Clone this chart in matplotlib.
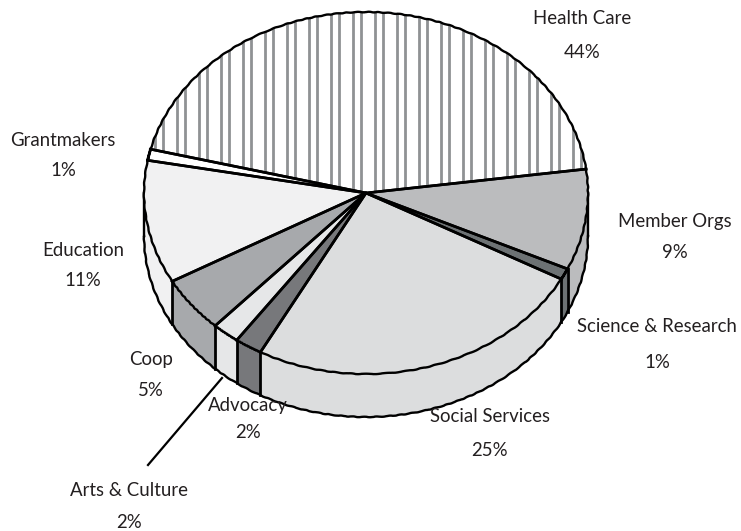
import numpy as np
import matplotlib
matplotlib.use('Agg')
import matplotlib.pyplot as plt
from matplotlib.patches import Polygon

labels = ['Health Care', 'Member Orgs', 'Science & Research', 'Social Services', 'Advocacy',
          'Arts & Culture', 'Coop', 'Education', 'Grantmakers']
values = [44, 9, 1, 25, 2, 2, 5, 11, 1]
colors = ['white', '#bbbcbe', '#6d7274', '#dcddde', '#77787b', '#e6e7e8', '#a7a9ac', '#f1f1f2', 'white']
# x centre, name line y, percent line y
label_pos = [(582, 19, 52), (675, 221, 252), (657, 327, 363), (490, 417, 451), (248, 405, 433),
             (129, 490, 523), (151, 360, 390), (83, 251, 281), (63, 140, 170)]

# pie geometry in pixel units
cx, cy = 366, 193
rx, ry = 222, 181
depth = 43
start_angle = 166.0


def rim(a0, a1, n=120):
    t = np.radians(np.linspace(a0, a1, n))
    return cx + rx * np.cos(t), cy - ry * np.sin(t)


def rough_line(ax, x, y, **kw):
    # slightly uneven stroke for the pie outline
    line, = ax.plot(x, y, color='black', lw=1.7, **kw)
    line.set_sketch_params(0.3, 12, 2)
    return line


fig = plt.figure(figsize=(7.41, 5.31), dpi=100)
ax = fig.add_axes([0, 0, 1, 1])
ax.set_xlim(0, 741)
ax.set_ylim(531, 0)
ax.axis('off')

# angles go clockwise from the left edge of the first slice
edges = start_angle - np.cumsum([0] + values) * 360 / sum(values)

# side wall first, only the part of the rim facing the viewer
for i in range(len(values)):
    a0, a1 = edges[i], edges[i + 1]
    # visible rim is between -180 and 0 degrees
    lo, hi = max(a1, -180), min(a0, 0)
    if hi <= lo:
        continue
    x, y = rim(hi, lo)
    pts = np.r_[np.c_[x, y], np.c_[x[::-1], y[::-1] + depth]]
    ax.add_patch(Polygon(pts, closed=True, fc=colors[i], ec='none', zorder=2))
    # dividers between wall sections
    if a0 < 0:
        ax.plot([x[0], x[0]], [y[0], y[0] + depth], color='black', lw=2.0, zorder=2.5)

# bottom outline of the wall
x, y = rim(0, -180, 300)
rough_line(ax, x, y + depth, zorder=2.5)
ax.plot([x[0], x[0]], [y[0], y[0] + depth], color='black', lw=1.7, zorder=2.5)
ax.plot([x[-1], x[-1]], [y[-1], y[-1] + depth], color='black', lw=1.7, zorder=2.5)

# top face
for i in range(len(values)):
    x, y = rim(edges[i], edges[i + 1])
    pts = np.r_[[[cx, cy]], np.c_[x, y]]
    wedge = Polygon(pts, closed=True, fc=colors[i], ec='none', zorder=3)
    ax.add_patch(wedge)
    if i == 0:
        # vertical stripes on the largest slice
        stripes = np.r_[np.arange(163, 590, 22), np.arange(155, 590, 22)]
        lines = ax.vlines(stripes, 0, 400, color='#8f9294', lw=2.0, zorder=3.5)
        lines.set_clip_path(wedge)
    ax.plot([x[0], cx, x[-1]], [y[0], cy, y[-1]], color='black', lw=1.9, zorder=4)
    rough_line(ax, x, y, zorder=4)

# leader line for Arts & Culture
ax.plot([148, 222], [465, 378], color='black', lw=1.6, zorder=1)

for name, val, (lx, y1, y2) in zip(labels, values, label_pos):
    ax.text(lx, y1, name, ha='center', va='center', fontsize=13.4,
            family='Lato', color='#231f20', zorder=5)
    ax.text(lx, y2, f'{val}%', ha='center', va='center', fontsize=13.4,
            family='Lato', color='#231f20', zorder=5)

fig.savefig('out.png', dpi=100)
